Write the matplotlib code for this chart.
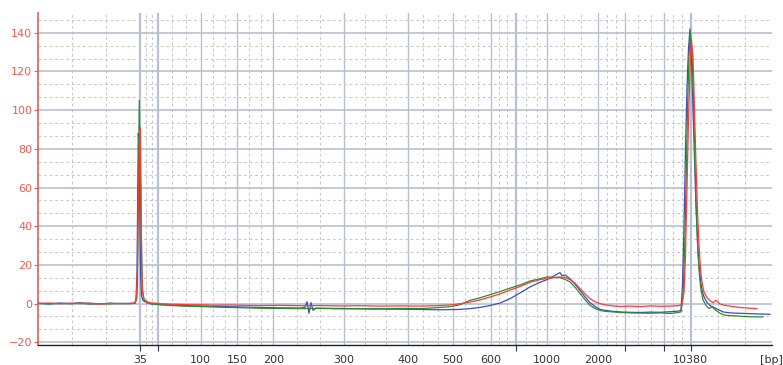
import numpy as np
import matplotlib
matplotlib.use('Agg')
import matplotlib.pyplot as plt

# Electropherogram: fluorescence vs migration time (arbitrary time units),
# x ticks labelled with the ladder sizes in bp

# ladder / grid positions on the time axis
major_pos = [140, 157.7, 200.7, 237, 273.3, 344, 407.7, 452.7, 490.7, 515.7,
             547.3, 598.3, 625, 664.3, 690.7]
major_lab = ['35', '', '100', '150', '200', '300', '400', '500', '600', '',
             '1000', '2000', '', '', '10380']
tick_marked = ['35', '50', '700', '3000', '7000', '10380']
tick_names = ['35', '50', '100', '150', '200', '300', '400', '500', '600', '700',
              '1000', '2000', '3000', '7000', '10380']
x_min, x_max = 38, 772
y_min, y_max = -21.4, 150.2

# traces as (time, fluorescence) pairs
red = [(38, 0.1), (50, 0.3), (60, -0.1), (70, 0.2), (80, 0.0), (90, 0.2), (100, -0.2),
       (110, 0.1), (120, 0.0), (130, 0.1), (135, 0.3), (136.5, 3), (137.5, 20),
       (138.5, 55), (139.5, 85), (140.3, 91), (141, 60), (141.7, 20), (142.5, 6),
       (144, 2.2), (147, 1.0), (150, 0.4), (160, 0.0), (170, -0.3), (180, -0.4),
       (190, -0.6), (200, -0.6), (215, -0.8), (230, -0.7), (245, -0.9), (260, -1.0),
       (280, -0.9), (300, -1.1), (320, -1.0), (340, -1.2), (360, -1.1), (380, -1.3),
       (400, -1.2), (420, -1.3), (440, -1.0), (450, -0.7), (460, -0.1), (470, 0.8),
       (480, 1.9), (490, 3.4), (500, 5.0), (510, 7.0), (520, 8.8), (530, 11.0),
       (540, 12.4), (547, 12.9), (553, 13.3), (560, 13.8), (565, 13.5), (570, 12.4),
       (575, 10.5), (580, 7.7), (585, 5.0), (590, 2.6), (595, 1.0), (600, 0.0),
       (605, -0.6), (613, -1.2), (620, -1.5), (630, -1.3), (640, -1.6), (650, -1.2),
       (660, -1.4), (670, -1.3), (678, -1.1), (682, -0.5), (684, 6), (685.5, 25),
       (687, 60), (688.5, 95), (690, 122), (691.5, 136), (693, 128), (694.5, 100),
       (696, 72), (697.5, 48), (699, 30), (700.5, 18), (702, 11), (704, 6), (707, 3),
       (710, 1.5), (713, 0.5), (716, 1.7), (720, -0.2), (725, -0.9), (730, -1.3),
       (740, -2.0), (750, -2.4), (757, -2.6)]

green = [(38, 0.0), (50, -0.2), (60, 0.1), (70, -0.1), (80, 0.2), (90, -0.3), (100, 0.0),
         (110, -0.2), (120, 0.1), (130, -0.1), (135, 0.2), (136.5, 2), (137.5, 10),
         (138.5, 70), (139.3, 105), (140, 75), (140.7, 60), (141.5, 30), (142.3, 8),
         (144, 2), (147, 0.5), (150, 0.0), (160, -0.6), (170, -0.9), (180, -1.2),
         (190, -1.4), (200, -1.5), (215, -1.8), (230, -2.0), (245, -2.2), (260, -2.4),
         (280, -2.5), (300, -2.6), (320, -2.5), (340, -2.7), (360, -2.6), (380, -2.7),
         (400, -2.5), (420, -2.6), (440, -2.0), (450, -1.6), (460, -0.6), (470, 1.7),
         (480, 3.0), (490, 4.6), (500, 6.2), (510, 8.0), (520, 9.6), (530, 11.7),
         (540, 12.8), (547, 13.8), (553, 13.6), (560, 13.4), (565, 12.5), (570, 11.2),
         (575, 8.5), (580, 5.2), (585, 2.0), (590, -0.9), (595, -2.5), (600, -3.5),
         (605, -4.0), (613, -4.3), (620, -4.6), (630, -4.8), (640, -4.9), (650, -5.0),
         (660, -4.8), (670, -5.1), (678, -4.6), (681, -4.3), (683, 4), (684.5, 25),
         (686, 60), (687.5, 100), (689, 128), (690.5, 140), (692, 130), (693.5, 105),
         (695, 72), (696.5, 46), (698, 26), (699.5, 14), (701, 7), (703, 2), (706, -1),
         (709, -2.5), (712, -1.7), (716, -3.5), (720, -5.0), (725, -6.0), (730, -6.2),
         (740, -6.5), (750, -6.8), (763, -6.9)]

blue = [(38, 0.2), (50, -0.1), (60, 0.3), (70, 0.0), (80, 0.4), (90, 0.1), (100, -0.1),
        (110, 0.2), (120, 0.0), (130, 0.1), (135, 0.2), (136, 3), (137, 16), (137.7, 56),
        (138.3, 88), (139, 80), (139.8, 45), (140.6, 15), (141.5, 4), (143, 1.5),
        (147, 0.5), (150, 0.0), (160, -0.5), (170, -0.8), (180, -1.0), (190, -1.1),
        (200, -1.2), (215, -1.4), (230, -1.6), (245, -1.8), (260, -2.0), (280, -2.2),
        (300, -2.3), (305, -2.0), (307, 1.0), (309, -5.0), (311, 0.5), (313, -3.5),
        (316, -2.3), (320, -2.4), (340, -2.5), (360, -2.7), (380, -2.8), (400, -2.9),
        (420, -3.0), (440, -3.2), (460, -3.0), (470, -2.6), (480, -2.0), (490, -1.0),
        (500, 0.3), (510, 2.5), (520, 5.5), (530, 8.6), (540, 11.0), (547, 12.4),
        (553, 14.0), (557, 15.2), (560, 16.0), (562, 14.5), (565, 14.8), (570, 12.9),
        (575, 10.0), (580, 6.9), (585, 3.5), (590, 0.5), (595, -1.5), (600, -3.0),
        (605, -3.5), (613, -4.0), (620, -4.3), (630, -4.5), (640, -4.6), (650, -4.4),
        (660, -4.5), (670, -4.2), (678, -3.9), (681, -3.5), (682.5, 10), (684, 40),
        (685.5, 80), (687, 112), (688.5, 132), (690, 142), (691.5, 125), (693, 100),
        (694.5, 75), (696, 50), (697.5, 32), (699, 20), (700.5, 12), (702, 7),
        (704, 3.5), (707, 0.5), (710, -1.0), (714, -2.0), (718, -3.0), (723, -4.3),
        (730, -4.8), (740, -5.0), (750, -5.2), (760, -5.4), (770, -5.5)]

axis_red = '#f05a50'
major_grid = '#b7c1d3'
minor_grid = '#c9c9c9'

fig = plt.figure(figsize=(7.83, 3.65), dpi=100)
ax = fig.add_axes([38 / 783, 20 / 365, (772 - 38) / 783, (345 - 13) / 365])

# minor vertical lines: thirds of each interval between major positions
edges = [x_min] + major_pos + [x_max + 0.5]
minor_pos = []
for a, b in zip(edges[:-1], edges[1:]):
    minor_pos += [a + (b - a) / 3, a + 2 * (b - a) / 3]

for x in minor_pos:
    ax.axvline(x, color=minor_grid, lw=0.8, ls=(0, (2.5, 2.5)), zorder=0)
for x, name in zip(major_pos, tick_names):
    lw = 1.6 if name in ('35', '50', '700', '10380') else 1.0
    ax.axvline(x, color=major_grid, lw=lw, zorder=0)

for y in np.arange(-20, 150, 20 / 3):
    if abs(round(y) % 20) < 0.01 and abs(y - round(y)) < 0.01:
        ax.axhline(y, color=major_grid, lw=1.2, zorder=0)
    else:
        ax.axhline(y, color=minor_grid, lw=0.8, ls=(0, (2.5, 2.5)), zorder=0)

for trace, col in [(blue, '#3a4fb8'), (green, '#2f8a36'), (red, '#ff3a30')]:
    t, v = np.array(trace).T
    ax.plot(t, v, color=col, lw=0.9, zorder=3)

ax.set_xlim(x_min, x_max)
ax.set_ylim(y_min, y_max)

ax.set_xticks(major_pos + [x_max - 1])
ax.set_xticklabels(major_lab + ['[bp]'], fontsize=8, color='#333333')
ax.tick_params(axis='x', length=4, width=0.8, color='#333333', pad=3)
for tick, name in zip(ax.xaxis.get_major_ticks(), tick_names + ['bp']):
    if name not in tick_marked:
        tick.tick1line.set_markersize(0)

ax.set_yticks(range(-20, 141, 20))
ax.tick_params(axis='y', length=3, width=0.8, color=axis_red, labelcolor=axis_red,
               labelsize=8, pad=1)

for side in ['top', 'right']:
    ax.spines[side].set_visible(False)
ax.spines['left'].set_color(axis_red)
ax.spines['left'].set_linewidth(1.2)
ax.spines['bottom'].set_color('#222222')
ax.spines['bottom'].set_linewidth(1.0)

fig.savefig('out.png', dpi=100)
